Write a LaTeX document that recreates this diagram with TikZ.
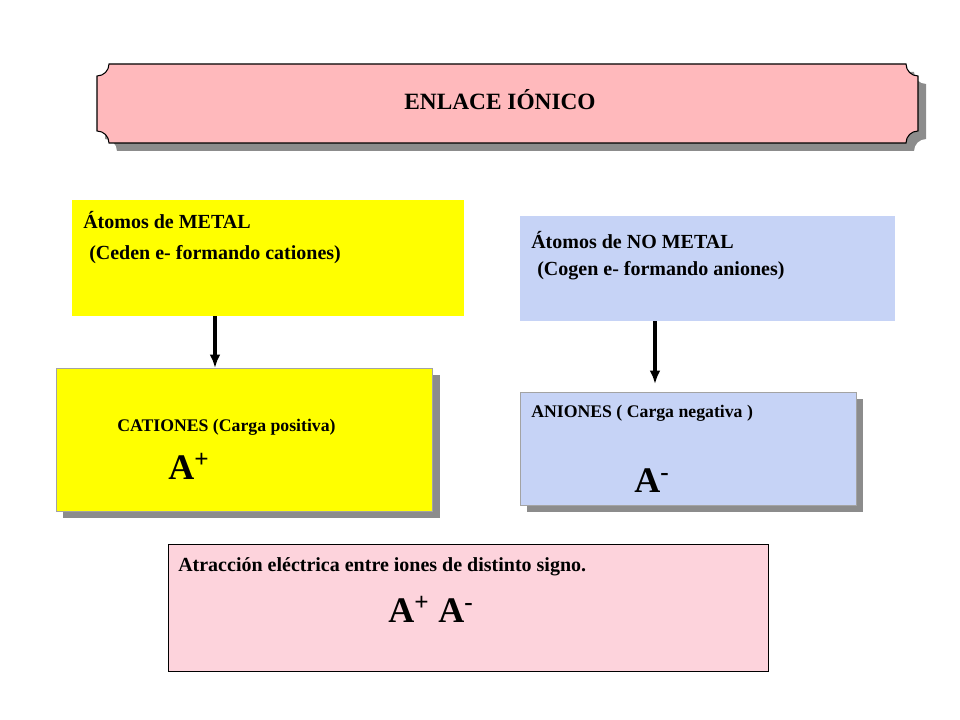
\documentclass[tikz,border=0pt]{standalone}
\usepackage{fontspec}
\usetikzlibrary{arrows.meta}
\setmainfont{Liberation Serif}
\definecolor{titlepink}{HTML}{FFB9BC}
\definecolor{ylw}{HTML}{FFFF00}
\definecolor{lblue}{HTML}{C6D3F6}
\definecolor{bpink}{HTML}{FDD3DC}
\definecolor{shad}{HTML}{8C8C8C}
\begin{document}
\begin{tikzpicture}[x=0.75pt,y=-0.75pt,
  txt/.style={font=\bfseries\fontsize{15}{18}\selectfont,anchor=west,inner sep=0},
  big/.style={font=\bfseries\fontsize{27}{30}\selectfont,anchor=west,inner sep=0},
  arr/.style={-{Latex[length=10pt,width=8pt]},line width=2.4pt}]
\useasboundingbox (0,0) rectangle (960,720);
% title plaque
\def\plaque#1#2#3#4{%
  (#1+12,#2) -- (#3-12,#2) arc[start angle=180,end angle=90,radius=12]
  -- (#3,#4-12) arc[start angle=270,end angle=180,radius=12]
  -- (#1+12,#4) arc[start angle=0,end angle=-90,radius=12]
  -- (#1,#2+12) arc[start angle=90,end angle=0,radius=12] -- cycle}
\fill[shad] \plaque{105}{72}{926}{151};
\draw[fill=titlepink,line width=0.8pt] \plaque{97}{64}{918}{143};
\node[font=\bfseries\fontsize{17.5}{20}\selectfont] (title) at (500,100) {ENLACE IÓNICO};
% top boxes
\fill[ylw] (72,200) rectangle (464,316);
\node[txt] (t1) at (83,220) {Átomos de METAL};
\node[txt] (t2) at (89,255) {(Ceden e- formando cationes)};
\fill[lblue] (520,216) rectangle (895,321);
\node[txt] (t3) at (531,240) {Átomos de NO METAL};
\node[txt] (t4) at (537,271) {(Cogen e- formando aniones)};
% lower boxes
\fill[shad] (63,375) rectangle (440,518);
\draw[fill=ylw,draw=shad!80,line width=0.6pt] (56,368) rectangle (432,511);
\node[font=\bfseries\fontsize{13.3}{16}\selectfont,anchor=west,inner sep=0] (cat) at (117,427) {CATIONES (Carga positiva)};
\node[big] (ap) at (168,466) {A\textsuperscript{+}};
\fill[shad] (527,399) rectangle (863,512);
\draw[fill=lblue,draw=shad!80,line width=0.6pt] (520,392) rectangle (856,505);
\node[font=\bfseries\fontsize{13.3}{16}\selectfont,anchor=west,inner sep=0] (an) at (531,413) {ANIONES ( Carga negativa )};
\node[big] (am) at (634,481) {A\textsuperscript{-}};
% arrows
\coordinate (a1s) at (215,316); \coordinate (a1e) at (215,368);
\coordinate (a2s) at (655,321); \coordinate (a2e) at (655,384);
\draw[arr] (a1s) -- (a1e);
\draw[arr] (a2s) -- (a2e);
% bottom
\draw[fill=bpink,line width=0.6pt] (168,544) rectangle (768,671);
\node[txt] (bt) at (178,567) {Atracción eléctrica entre iones de distinto signo.};
\node[big] (apm) at (388,609) {A\textsuperscript{+} A\textsuperscript{-}};
\end{tikzpicture}
\end{document}
